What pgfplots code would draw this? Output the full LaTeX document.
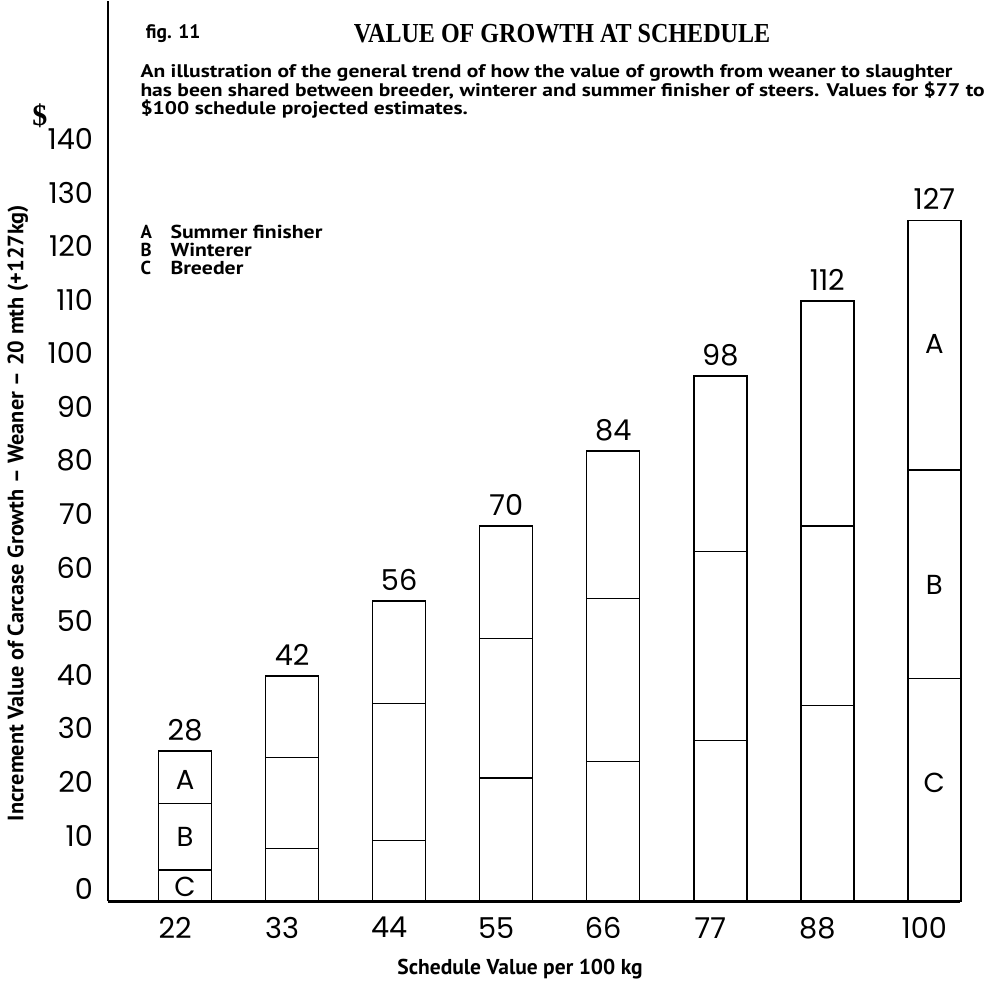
\documentclass[border=0pt]{standalone}
\usepackage{fontspec}
\usepackage{pgfplots}
\usepackage{pgfplotstable}
\pgfplotsset{compat=1.18}
\setmainfont{PT Sans}
\newfontfamily\pop{Poppins}
\newfontfamily\tser{Liberation Serif}

\pgfplotstableread{
x C B A lab
0 5.8 12.4 9.8 28
1 9.8 17.0 15.2 42
2 11.3 25.6 19.1 56
3 23.0 26.0 21.0 70
4 26.0 30.5 27.5 84
5 30.0 35.2 32.8 98
6 36.5 33.5 42.0 112
7 41.5 39.0 46.5 127
}\data

\begin{document}
\begin{tikzpicture}
\begin{axis}[
 at={(43.2pt,-360pt)}, anchor=south west,
 scale only axis, width=340.8pt, height=360pt,
 xmin=-0.72, xmax=7.24, ymin=0, ymax=168,
 axis x line*=bottom, axis y line*=left,
 x axis line style={-, line width=1.2pt},
 y axis line style={-, line width=0.8pt},
 ytick={0,10,...,140}, xtick={0,...,7},
 xticklabels={22,33,44,55,66,77,88,100},
 major tick length=0pt,
 /pgf/number format/assume math mode=true,
 ticklabel style={font=\pop\fontsize{11.5}{13}\selectfont},
 yticklabel style={yshift=4.8pt, xshift=-2.5pt},
 xticklabel style={yshift=-3pt, xshift=-4pt},
 ybar stacked, bar width=21.2pt,
 clip=false,
]
\addplot[draw=black, fill=white, line width=0.6pt] table[x=x,y=C]{\data};
\addplot[draw=black, fill=white, line width=0.6pt] table[x=x,y=B]{\data};
\addplot[draw=black, fill=white, line width=0.6pt] table[x=x,y=A]{\data};
\coordinate (t0) at (axis cs:0,28);
\coordinate (t1) at (axis cs:1,42);
\coordinate (t2) at (axis cs:2,56);
\coordinate (t3) at (axis cs:3,70);
\coordinate (t4) at (axis cs:4,84);
\coordinate (t5) at (axis cs:5,98);
\coordinate (t6) at (axis cs:6,112);
\coordinate (t7) at (axis cs:7,127);
\coordinate (a0) at (axis cs:0,22.6);
\coordinate (b0) at (axis cs:0,12);
\coordinate (c0) at (axis cs:0,2.6);
\coordinate (a7) at (axis cs:7,104);
\coordinate (b7) at (axis cs:7,59);
\coordinate (c7) at (axis cs:7,22);
\end{axis}
\begin{scope}[every node/.style={font=\pop\fontsize{11.5}{13}\selectfont}]
\foreach \p/\t in {t0/28,t1/42,t2/56,t3/70,t4/84,t5/98,t6/112,t7/127}
  \node[anchor=base, yshift=4.4pt, inner sep=0pt] at (\p) {\t};
\end{scope}
\begin{scope}[every node/.style={font=\pop\fontsize{11}{13}\selectfont}]
\node at (a0) {A}; \node at (b0) {B}; \node at (c0) {C};
\node at (a7) {A}; \node at (b7) {B}; \node at (c7) {C};
\end{scope}
\begin{scope}[x=0.4pt,y=-0.4pt]
\path[use as bounding box] (0,0) rectangle (998,980);
\node[font=\tser\bfseries\fontsize{12}{14}\selectfont] at (40,115) {\$};
\node[anchor=west, font=\bfseries\fontsize{7.8}{9}\selectfont] at (137,33) {fig. 11};
\node[font=\tser\bfseries\fontsize{11}{13}\selectfont] at (562,33) {\scalebox{0.875}[1]{VALUE OF GROWTH AT SCHEDULE}};
\node[anchor=west, font=\bfseries\fontsize{7.3}{9}\selectfont, inner sep=0pt] at (140,72) {\scalebox{1.18}[1]{An illustration of the general trend of how the value of growth from weaner to slaughter}};
\node[anchor=west, font=\bfseries\fontsize{7.3}{9}\selectfont, inner sep=0pt] at (140,90) {\scalebox{1.18}[1]{has been shared between breeder, winterer and summer finisher of steers. Values for \$77 to}};
\node[anchor=west, font=\bfseries\fontsize{7.3}{9}\selectfont, inner sep=0pt] at (140,108) {\scalebox{1.18}[1]{\$100 schedule projected estimates.}};
\node[anchor=west, font=\bfseries\fontsize{7.5}{9}\selectfont, inner sep=0pt] at (140,231) {A};
\node[anchor=west, font=\bfseries\fontsize{7.5}{9}\selectfont, inner sep=0pt] at (140,249) {B};
\node[anchor=west, font=\bfseries\fontsize{7.5}{9}\selectfont, inner sep=0pt] at (140,267) {C};
\node[anchor=west, font=\bfseries\fontsize{7.5}{9}\selectfont, inner sep=0pt] at (170,231) {\scalebox{1.16}[1]{Summer finisher}};
\node[anchor=west, font=\bfseries\fontsize{7.5}{9}\selectfont, inner sep=0pt] at (170,249) {\scalebox{1.16}[1]{Winterer}};
\node[anchor=west, font=\bfseries\fontsize{7.5}{9}\selectfont, inner sep=0pt] at (170,267) {\scalebox{1.16}[1]{Breeder}};
\node[rotate=90, font=\bfseries\fontsize{8.9}{10}\selectfont] at (18,512) {Increment Value of Carcase Growth -- Weaner -- 20 mth (+127kg)};
\node[font=\bfseries\fontsize{8.6}{10}\selectfont] at (520,968) {Schedule Value per 100 kg};
\end{scope}
\end{tikzpicture}
\end{document}
